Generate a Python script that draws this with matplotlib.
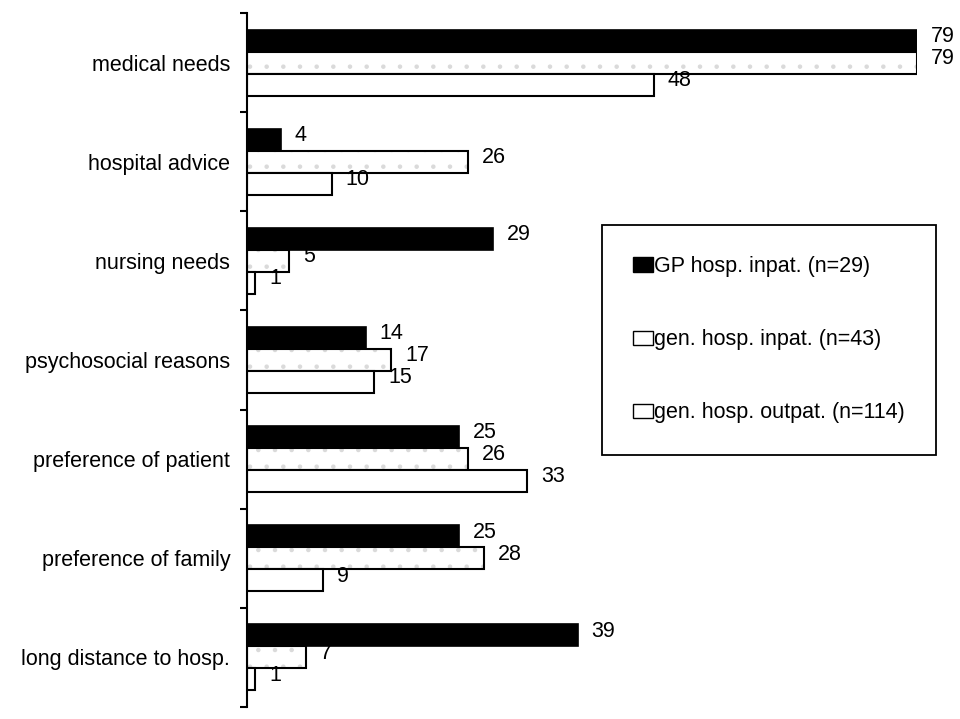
import matplotlib
matplotlib.use("Agg")
import matplotlib.pyplot as plt
from matplotlib.patches import Patch
import numpy as np

categories = ["medical needs", "hospital advice", "nursing needs", "psychosocial reasons",
              "preference of patient", "preference of family", "long distance to hosp."]
gp_inpat = [79, 4, 29, 14, 25, 25, 39]
gen_inpat = [79, 26, 5, 17, 26, 28, 7]
gen_outpat = [48, 10, 1, 15, 33, 9, 1]
series_labels = ["GP hosp. inpat. (n=29)", "gen. hosp. inpat. (n=43)", "gen. hosp. outpat. (n=114)"]

plt.rcParams['font.family'] = ['Liberation Sans', 'DejaVu Sans']
plt.rcParams['hatch.linewidth'] = 0.8
FS = 15.5

fig = plt.figure(figsize=(9.6, 7.19), dpi=100)
ax = fig.add_axes([247/960, 1-707/719, 670/960, 694/719])

y = np.arange(len(categories))
h = 0.222

# series 1: black
ax.barh(y - h, gp_inpat, height=h, color='black', edgecolor='black', linewidth=1.2)
# series 2: white with faint grey dots
ax.barh(y, gen_inpat, height=h, color='white', edgecolor='#dadada', hatch='.', linewidth=0)
ax.barh(y, gen_inpat, height=h, facecolor='none', edgecolor='black', linewidth=1.5)
# series 3: white
ax.barh(y + h, gen_outpat, height=h, color='white', edgecolor='black', linewidth=1.5)

for offs, vals in ((-h, gp_inpat), (0, gen_inpat), (h, gen_outpat)):
    for yi, v in zip(y, vals):
        ax.annotate(str(v), (v, yi + offs), xytext=(10, 3), textcoords='offset points',
                    va='center', ha='left', fontsize=FS, annotation_clip=False)

ax.set_xlim(0, 79)
ax.set_ylim(len(categories) - 0.5, -0.5)
ax.set_xticks([])
for s in ('top', 'right', 'bottom'):
    ax.spines[s].set_visible(False)
ax.spines['left'].set_linewidth(1.5)

ax.set_yticks(np.arange(len(categories) + 1) - 0.5)
ax.set_yticklabels([])
ax.tick_params(axis='y', which='major', length=5, width=1.5, direction='out')
ax.set_yticks(y, minor=True)
ax.set_yticklabels(categories, minor=True, fontsize=FS)
ax.tick_params(axis='y', which='minor', length=0, pad=12)

handles = [Patch(facecolor='black', edgecolor='black'),
           Patch(facecolor='white', edgecolor='black'),
           Patch(facecolor='white', edgecolor='black')]
leg = ax.legend(handles, series_labels, loc='upper left',
                bbox_to_anchor=(602/960, 1-225/719), bbox_transform=fig.transFigure,
                borderaxespad=0, borderpad=1.45, labelspacing=2.42, handlelength=0.9,
                handleheight=0.65, handletextpad=0.05, fontsize=FS, fancybox=False,
                framealpha=1, edgecolor='black')
leg.get_frame().set_linewidth(1.3)

fig.savefig("out.png", dpi=100)
